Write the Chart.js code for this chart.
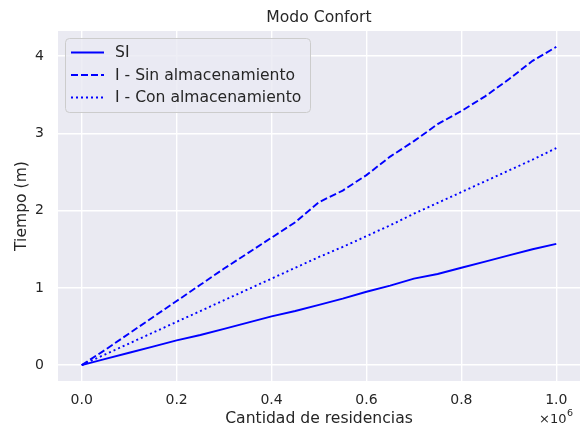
<!DOCTYPE html>
<html>
<head>
<meta charset="utf-8">
<script src="https://cdn.jsdelivr.net/npm/chart.js@4.4.1/dist/chart.umd.min.js"></script>
<style>
html,body{margin:0;padding:0;background:#fff;}
#wrap{width:587px;height:434px;}
</style>
</head>
<body>
<div id="wrap"><canvas id="c" width="587" height="434"></canvas></div>
<script>
const residencias = [0, 50000, 100000, 150000, 200000, 250000, 300000, 350000, 400000, 450000, 500000, 550000, 600000, 650000, 700000, 750000, 800000, 850000, 900000, 950000, 1000000];
const tiempoSI = [0, 0.08, 0.16, 0.24, 0.32, 0.39, 0.47, 0.55, 0.63, 0.70, 0.78, 0.86, 0.95, 1.03, 1.12, 1.18, 1.26, 1.34, 1.42, 1.50, 1.57];
const tiempoSinAlm = [0, 0.20, 0.41, 0.62, 0.83, 1.04, 1.25, 1.45, 1.65, 1.85, 2.11, 2.26, 2.46, 2.70, 2.90, 3.12, 3.29, 3.48, 3.70, 3.94, 4.12];
const tiempoConAlm = [0, 0.14, 0.28, 0.42, 0.56, 0.70, 0.84, 0.98, 1.12, 1.26, 1.40, 1.53, 1.67, 1.81, 1.96, 2.10, 2.24, 2.38, 2.52, 2.66, 2.81];
const seriesNames = ['SI', 'I - Sin almacenamiento', 'I - Con almacenamiento'];
const xTicks = [0, 200000, 400000, 600000, 800000, 1000000];
const yTicks = [0, 1, 2, 3, 4];

const FONT = "'DejaVu Sans', sans-serif";
const TXT = '#262626';

const bgPlugin = {
  id: 'bg',
  beforeDraw(chart) {
    const {ctx, chartArea: a} = chart;
    ctx.save();
    ctx.fillStyle = '#EAEAF2';
    ctx.fillRect(a.left, a.top, a.right - a.left, a.bottom - a.top);
    ctx.restore();
  }
};

const extraPlugin = {
  id: 'extra',
  afterDraw(chart) {
    const {ctx, chartArea: a} = chart;
    ctx.save();
    // offset text (x10^6)
    ctx.fillStyle = TXT;
    ctx.textAlign = 'left';
    ctx.textBaseline = 'alphabetic';
    ctx.font = '13px ' + FONT;
    ctx.fillText('\u00d710', 539, 422.5);
    ctx.font = '9.5px ' + FONT;
    ctx.fillText('6', 567, 416);
    // legend
    const lx = 65, ly = 38, lw = 245, lh = 74;
    ctx.beginPath();
    ctx.roundRect(lx + 0.5, ly + 0.5, lw, lh, 4);
    ctx.fillStyle = 'rgba(234,234,242,0.8)';
    ctx.fill();
    ctx.strokeStyle = '#CCCCCC';
    ctx.lineWidth = 1;
    ctx.stroke();
    const rows = [52.5, 75, 97.5];
    chart.data.datasets.forEach((ds, i) => {
      ctx.beginPath();
      ctx.setLineDash(ds.borderDash || []);
      ctx.strokeStyle = ds.borderColor;
      ctx.lineWidth = ds.borderWidth;
      ctx.moveTo(71, rows[i]);
      ctx.lineTo(104, rows[i]);
      ctx.stroke();
      ctx.setLineDash([]);
      ctx.fillStyle = TXT;
      ctx.font = '15.6px ' + FONT;
      ctx.textAlign = 'left';
      ctx.textBaseline = 'middle';
      ctx.fillText(ds.label, 115, rows[i] + 0.5);
    });
    ctx.restore();
  }
};

function pts(ys) { return residencias.map((x, i) => ({x: x, y: ys[i]})); }

const common = {borderColor: '#0000FF', borderWidth: 1.9, pointRadius: 0, fill: false, tension: 0};

new Chart(document.getElementById('c'), {
  type: 'line',
  data: {
    datasets: [
      Object.assign({label: seriesNames[0], data: pts(tiempoSI), borderDash: []}, common),
      Object.assign({label: seriesNames[1], data: pts(tiempoSinAlm), borderDash: [7, 3]}, common),
      Object.assign({label: seriesNames[2], data: pts(tiempoConAlm), borderDash: [2, 3]}, common)
    ]
  },
  options: {
    responsive: false,
    animation: false,
    layout: {padding: {left: 0, right: 7, top: 0, bottom: 0}},
    plugins: {
      legend: {display: false},
      tooltip: {enabled: false},
      title: {
        display: true,
        text: 'Modo Confort',
        fullSize: false,
        color: TXT,
        font: {family: FONT, size: 15.6, weight: 'normal'},
        padding: {top: 8.5, bottom: 3.8}
      }
    },
    scales: {
      x: {
        type: 'linear',
        min: -50000,
        max: 1050000,
        border: {display: false},
        grid: {color: '#FFFFFF', lineWidth: 1.4, drawTicks: false},
        afterBuildTicks(s) { s.ticks = xTicks.map(v => ({value: v})); },
        afterFit(s) { s.height = 53; },
        ticks: {
          color: TXT,
          padding: 11,
          font: {family: FONT, size: 14},
          callback: v => (v / 1e6).toFixed(1)
        },
        title: {
          display: true,
          text: 'Cantidad de residencias',
          color: TXT,
          font: {family: FONT, size: 15.6},
          padding: {top: 0, bottom: 6}
        }
      },
      y: {
        type: 'linear',
        min: -0.206,
        max: 4.326,
        border: {display: false},
        grid: {color: '#FFFFFF', lineWidth: 1.4, drawTicks: false},
        afterBuildTicks(s) { s.ticks = yTicks.map(v => ({value: v})); },
        afterFit(s) { s.width = 58; },
        ticks: {
          color: TXT,
          padding: 14,
          font: {family: FONT, size: 14},
          callback: v => String(v)
        },
        title: {
          display: true,
          text: 'Tiempo (m)',
          color: TXT,
          font: {family: FONT, size: 15.6},
          padding: {top: 12.5, bottom: 0}
        }
      }
    }
  },
  plugins: [bgPlugin, extraPlugin]
});
</script>
</body>
</html>
